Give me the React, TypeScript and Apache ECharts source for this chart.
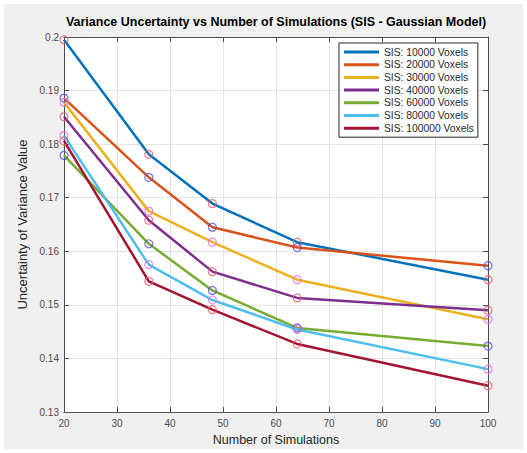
import React, { useEffect, useRef } from "react";
import * as echarts from "echarts";

const simulations = [20, 36, 48, 64, 100];
const seriesNames = [
  "SIS: 10000 Voxels",
  "SIS: 20000 Voxels",
  "SIS: 30000 Voxels",
  "SIS: 40000 Voxels",
  "SIS: 60000 Voxels",
  "SIS: 80000 Voxels",
  "SIS: 100000 Voxels",
];
const v10000 = [0.1995, 0.1781, 0.1689, 0.1617, 0.1547];
const v20000 = [0.1886, 0.1738, 0.1645, 0.1607, 0.1573];
const v30000 = [0.1878, 0.1675, 0.1617, 0.1547, 0.1473];
const v40000 = [0.1851, 0.1658, 0.1562, 0.1513, 0.149];
const v60000 = [0.1779, 0.1614, 0.1527, 0.1457, 0.1423];
const v80000 = [0.1816, 0.1575, 0.1509, 0.1454, 0.138];
const v100000 = [0.1806, 0.1544, 0.1491, 0.1427, 0.1349];
const allValues = [v10000, v20000, v30000, v40000, v60000, v80000, v100000];

const lineColors = ["#0072BD", "#D95319", "#EDB120", "#7E2F8E", "#77AC30", "#4DBEEE", "#A2142F"];
const markerColors = ["#e85a6a", "#4f4fdc", "#e070e8", "#e85a6a", "#4f4fdc", "#e070e8", "#e85a6a"];

const FONT = "'Liberation Sans', Arial, sans-serif";
const AXIS = "#4d4d4d";

export default function App() {
  const ref = useRef<HTMLDivElement>(null);
  useEffect(() => {
    if (!ref.current) return;
    const chart = echarts.init(ref.current, null, { renderer: "svg" });
    const lines = allValues.map((vals, i) => ({
      name: seriesNames[i],
      type: "line",
      data: simulations.map((x, j) => [x, vals[j]]),
      showSymbol: false,
      symbol: "none",
      color: lineColors[i],
      lineStyle: { color: lineColors[i], width: 2.5 },
      z: 2 + i,
    }));
    const markers = allValues.map((vals, i) => ({
      name: "m" + i,
      type: "scatter",
      data: simulations.map((x, j) => [x, vals[j]]),
      symbol: "circle",
      symbolSize: 8,
      itemStyle: { color: "rgba(0,0,0,0)", borderColor: markerColors[i], borderWidth: 1.2 },
      z: 20,
      silent: true,
    }));
    const gridLeft = 64;
    const gridTop = 37;
    const gridW = 424;
    const gridH = 375;
    chart.setOption({
      animation: false,
      backgroundColor: "#ffffff",
      textStyle: { fontFamily: FONT },
      graphic: [
        {
          type: "rect",
          shape: { x: 4, y: 4, width: 519, height: 445 },
          style: { fill: "#f0f0f0" },
          z: -10,
          silent: true,
        },
        {
          type: "rect",
          shape: { x: gridLeft, y: gridTop, width: gridW, height: gridH },
          style: { fill: "#ffffff" },
          z: -9,
          silent: true,
        },
        {
          type: "text",
          x: gridLeft + gridW / 2,
          y: 15,
          style: {
            text: "Variance Uncertainty vs Number of Simulations (SIS - Gaussian Model)",
            font: "bold 12.5px " + FONT,
            fill: "#000000",
            textAlign: "center",
            textVerticalAlign: "top",
          },
          z: 10,
        },
      ],
      grid: { left: gridLeft, top: gridTop, width: gridW, height: gridH, containLabel: false },
      legend: {
        data: seriesNames,
        orient: "vertical",
        left: 339,
        top: 43,
        padding: [3, 4, 3, 5],
        itemGap: 0.7,
        itemWidth: 35,
        itemHeight: 3,
        icon: "rect",
        backgroundColor: "#ffffff",
        borderColor: "#262626",
        borderWidth: 1,
        textStyle: { fontSize: 10.3, color: "#262626", fontFamily: FONT, lineHeight: 12 },
      },
      xAxis: [
        {
          type: "value",
          min: 20,
          max: 100,
          interval: 10,
          name: "Number of Simulations",
          nameLocation: "middle",
          nameGap: 21,
          nameTextStyle: { fontSize: 12.5, color: "#262626", fontFamily: FONT },
          axisLine: { show: true, lineStyle: { color: AXIS, width: 1 } },
          axisTick: { show: true, inside: true, length: 5, lineStyle: { color: AXIS } },
          axisLabel: { fontSize: 10, color: AXIS, margin: 6, fontFamily: FONT },
          splitLine: { show: true, lineStyle: { color: "#e3e3e3", width: 1 } },
        },
        {
          type: "value",
          position: "top",
          min: 20,
          max: 100,
          interval: 10,
          axisLine: { show: true, lineStyle: { color: AXIS, width: 1 } },
          axisTick: { show: true, inside: true, length: 5, lineStyle: { color: AXIS } },
          axisLabel: { show: false },
          splitLine: { show: false },
        },
      ],
      yAxis: [
        {
          type: "value",
          min: 0.13,
          max: 0.2,
          interval: 0.01,
          name: "Uncertainty of Variance Value",
          nameLocation: "middle",
          nameGap: 34,
          nameTextStyle: { fontSize: 13, color: "#262626", fontFamily: FONT },
          axisLine: { show: true, lineStyle: { color: AXIS, width: 1 } },
          axisTick: { show: true, inside: true, length: 5, lineStyle: { color: AXIS } },
          axisLabel: {
            fontSize: 10,
            color: AXIS,
            margin: 5,
            fontFamily: FONT,
            formatter: (v: number) => String(+v.toFixed(2)),
          },
          splitLine: { show: true, lineStyle: { color: "#e3e3e3", width: 1 } },
        },
        {
          type: "value",
          position: "right",
          min: 0.13,
          max: 0.2,
          interval: 0.01,
          axisLine: { show: true, lineStyle: { color: AXIS, width: 1 } },
          axisTick: { show: true, inside: true, length: 5, lineStyle: { color: AXIS } },
          axisLabel: { show: false },
          splitLine: { show: false },
        },
      ],
      series: [...lines, ...markers],
    });
    return () => chart.dispose();
  }, []);
  return (
    <div
      ref={ref}
      style={{ position: "absolute", left: 0, top: 0, width: 527, height: 453 }}
    />
  );
}
